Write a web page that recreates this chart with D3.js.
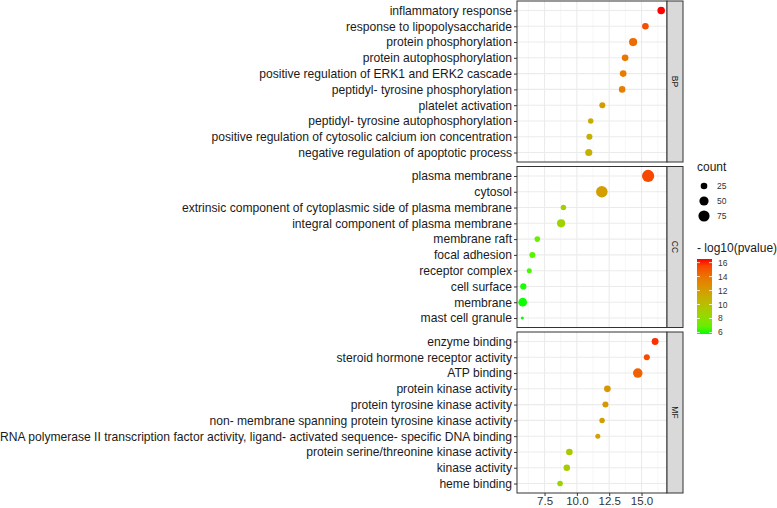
<!DOCTYPE html>
<html>
<head>
<meta charset="utf-8">
<script src="https://cdn.jsdelivr.net/npm/d3@7"></script>
<style>
  html, body { margin: 0; padding: 0; background: #fff; }
  svg { display: block; font-family: "Liberation Sans", Arial, sans-serif; }
</style>
</head>
<body>
<svg id="chart" width="777" height="508"></svg>
<script>
// ---- data ----
const ontologies = ["BP", "CC", "MF"];

const bpTerms = ["inflammatory response", "response to lipopolysaccharide", "protein phosphorylation",
  "protein autophosphorylation", "positive regulation of ERK1 and ERK2 cascade",
  "peptidyl- tyrosine phosphorylation", "platelet activation", "peptidyl- tyrosine autophosphorylation",
  "positive regulation of cytosolic calcium ion concentration", "negative regulation of apoptotic process"];
const bpLogP = [16.52, 15.30, 14.35, 13.73, 13.58, 13.50, 11.97, 11.07, 10.97, 10.92];
const bpCount = [33, 25, 39, 25, 25, 24, 20, 16, 20, 29];

const ccTerms = ["plasma membrane", "cytosol", "extrinsic component of cytoplasmic side of plasma membrane",
  "integral component of plasma membrane", "membrane raft", "focal adhesion", "receptor complex",
  "cell surface", "membrane", "mast cell granule"];
const ccLogP = [15.51, 11.93, 8.96, 8.78, 6.94, 6.56, 6.32, 5.86, 5.81, 5.78];
const ccCount = [90, 81, 16, 39, 17, 20, 13, 22, 45, 3];

const mfTerms = ["enzyme binding", "steroid hormone receptor activity", "ATP binding", "protein kinase activity",
  "protein tyrosine kinase activity", "non- membrane spanning protein tyrosine kinase activity",
  "RNA polymerase II transcription factor activity, ligand- activated sequence- specific DNA binding",
  "protein serine/threonine kinase activity", "kinase activity", "heme binding"];
const mfLogP = [16.05, 15.41, 14.71, 12.36, 12.21, 11.95, 11.62, 9.42, 9.22, 8.70];
const mfCount = [27, 20, 54, 25, 20, 16, 13, 25, 24, 17];

const xDomain = [5.37, 16.97];
const xTicks = [7.5, 10.0, 12.5, 15.0];
const sizeLegendValues = [25, 50, 75];
const colorLegendTicks = [6, 8, 10, 12, 14, 16];

// ---- build ----
const groups = [
  { name: "BP", terms: bpTerms, logp: bpLogP, count: bpCount },
  { name: "CC", terms: ccTerms, logp: ccLogP, count: ccCount },
  { name: "MF", terms: mfTerms, logp: mfLogP, count: mfCount }
];
const allLogP = bpLogP.concat(ccLogP, mfLogP);
const allCount = bpCount.concat(ccCount, mfCount);

const svg = d3.select("#chart");
const panelLeft = 517, panelRight = 667, stripW = 16;
const panelH = 161, panelTops = [1, 166.5, 332];
const FONT = "'Liberation Sans', Arial, sans-serif";

const ext = d3.extent(allLogP);
const x = d3.scaleLinear().domain(xDomain).range([panelLeft, panelRight]);

const cExt = d3.extent(allCount);
const area = d3.scaleLinear().domain(cExt).range([1.5 * 1.5, 6.1 * 6.1]);
const rOf = c => Math.sqrt(area(c));

const color = d3.scaleLinear().domain(ext).range(["#00FF00", "#FF0000"]).interpolate(d3.interpolateLab);

const minorTicks = d3.range(xTicks.length + 1).map(i => xTicks[0] - 1.25 + i * 2.5);

groups.forEach((g, gi) => {
  const top = panelTops[gi];
  const y = d3.scalePoint().domain(g.terms).range([top, top + panelH]).padding(0.6);
  const gp = svg.append("g");

  gp.append("rect").attr("x", panelLeft).attr("y", top).attr("width", panelRight - panelLeft)
    .attr("height", panelH).attr("fill", "#fff");

  gp.selectAll("line.minor").data(minorTicks.filter(v => x(v) > panelLeft && x(v) < panelRight))
    .enter().append("line")
    .attr("x1", d => x(d)).attr("x2", d => x(d)).attr("y1", top).attr("y2", top + panelH)
    .attr("stroke", "#F2F2F2").attr("stroke-width", 0.6);
  gp.selectAll("line.majx").data(xTicks).enter().append("line")
    .attr("x1", d => x(d)).attr("x2", d => x(d)).attr("y1", top).attr("y2", top + panelH)
    .attr("stroke", "#EBEBEB").attr("stroke-width", 1.1);
  gp.selectAll("line.majy").data(g.terms).enter().append("line")
    .attr("x1", panelLeft).attr("x2", panelRight).attr("y1", d => y(d)).attr("y2", d => y(d))
    .attr("stroke", "#EBEBEB").attr("stroke-width", 1.1);

  gp.selectAll("circle").data(g.terms.map((t, i) => ({ t, v: g.logp[i], c: g.count[i] })))
    .enter().append("circle")
    .attr("cx", d => x(d.v)).attr("cy", d => y(d.t)).attr("r", d => rOf(d.c))
    .attr("fill", d => color(d.v));

  gp.append("rect").attr("x", panelLeft).attr("y", top).attr("width", panelRight - panelLeft)
    .attr("height", panelH).attr("fill", "none").attr("stroke", "#333").attr("stroke-width", 1);

  const ya = gp.append("g").attr("transform", `translate(${panelLeft},0)`)
    .call(d3.axisLeft(y).tickSize(3).tickPadding(2));
  ya.select(".domain").remove();
  ya.selectAll(".tick line").attr("stroke", "#333");
  ya.selectAll(".tick text").attr("fill", "#1a1a1a").style("font-size", "12.1px").style("font-family", FONT);

  gp.append("rect").attr("x", panelRight).attr("y", top).attr("width", stripW).attr("height", panelH)
    .attr("fill", "#D9D9D9").attr("stroke", "#333").attr("stroke-width", 1);
  gp.append("text").attr("transform", `translate(${panelRight + stripW / 2},${top + panelH / 2}) rotate(90)`)
    .attr("text-anchor", "middle").attr("dy", "0.35em").attr("fill", "#1a1a1a")
    .style("font-size", "8.5px").text(g.name);

  if (gi === groups.length - 1) {
    const xa = gp.append("g").attr("transform", `translate(0,${top + panelH})`)
      .call(d3.axisBottom(x).tickValues(xTicks).tickFormat(d3.format(".1f")).tickSize(3).tickPadding(1));
    xa.select(".domain").remove();
    xa.selectAll(".tick line").attr("stroke", "#333");
    xa.selectAll(".tick text").attr("fill", "#333").style("font-size", "11.5px").style("font-family", FONT)
      .attr("dy", "0.66em");
  }
});

// ---- legends ----
const lg = svg.append("g");
lg.append("text").attr("x", 697).attr("y", 171).attr("fill", "#1a1a1a").style("font-size", "12px").text("count");
const sizeY = d3.scalePoint().domain(sizeLegendValues).range([186, 216]);
sizeLegendValues.forEach(v => {
  lg.append("circle").attr("cx", 704).attr("cy", sizeY(v)).attr("r", rOf(v)).attr("fill", "#000");
  lg.append("text").attr("x", 717).attr("y", sizeY(v)).attr("dy", "0.35em").attr("fill", "#333")
    .style("font-size", "8.5px").text(v);
});

lg.append("text").attr("x", 697).attr("y", 252).attr("fill", "#1a1a1a").style("font-size", "12px").text("- log10(pvalue)");
const barTop = 259, barBottom = 334, barX = 697, barW = 15;
const cy = d3.scaleLinear().domain(ext).range([barBottom, barTop]);
const defs = svg.append("defs");
const grad = defs.append("linearGradient").attr("id", "cgrad").attr("x1", 0).attr("y1", 1).attr("x2", 0).attr("y2", 0);
d3.range(0, 1.0001, 0.1).forEach(t => {
  grad.append("stop").attr("offset", t).attr("stop-color", color(ext[0] + t * (ext[1] - ext[0])));
});
lg.append("rect").attr("x", barX).attr("y", barTop).attr("width", barW).attr("height", barBottom - barTop)
  .attr("fill", "url(#cgrad)");
colorLegendTicks.forEach(v => {
  const yy = cy(v);
  lg.append("line").attr("x1", barX).attr("x2", barX + 3).attr("y1", yy).attr("y2", yy).attr("stroke", "#fff").attr("stroke-width", 0.8);
  lg.append("line").attr("x1", barX + barW - 3).attr("x2", barX + barW).attr("y1", yy).attr("y2", yy).attr("stroke", "#fff").attr("stroke-width", 0.8);
  lg.append("text").attr("x", 718).attr("y", yy).attr("dy", "0.35em").attr("fill", "#333")
    .style("font-size", "8.5px").text(v);
});
</script>
</body>
</html>
